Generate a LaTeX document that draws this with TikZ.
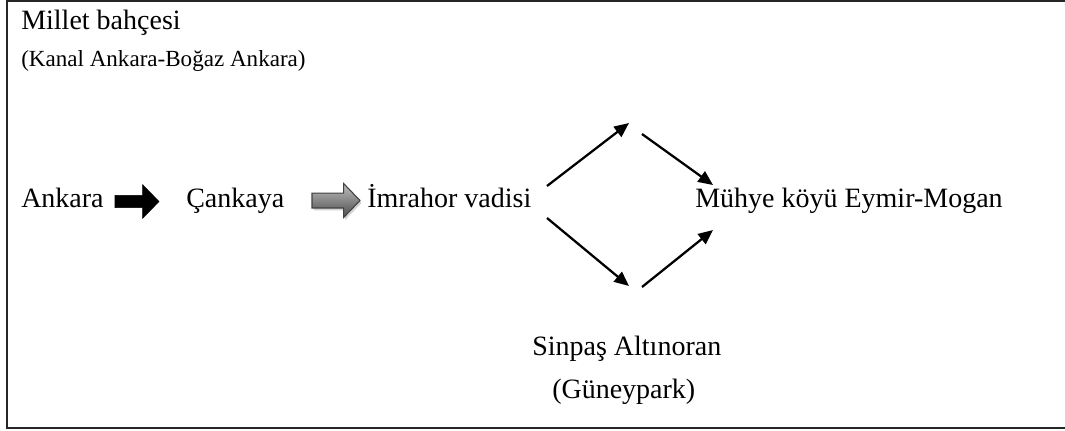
\documentclass[tikz,border=0pt]{standalone}
\usepackage{fontspec}
\setmainfont{Liberation Serif}
\usepackage{tikz}
\usetikzlibrary{arrows.meta,calc,shadows}

\begin{document}
\begin{tikzpicture}[x=0.75pt,y=-0.75pt,>=Triangle]
  \tikzstyle{place}=[inner sep=0pt,anchor=base west,font=\fontsize{21}{25}\selectfont]
  \tikzstyle{note}=[inner sep=0pt,anchor=base west,font=\fontsize{17.3}{20}\selectfont]
  \tikzstyle{route}=[line width=1.7pt,-{Triangle[length=11pt,width=9.5pt]}]
  \tikzset{fat/.style 2 args={to path={let \p1=(\tikztostart),\p2=(\tikztotarget) in
    (\x1,\y1+#1) -- (\x2-12.3pt,\y1+#1) -- (\x2-12.3pt,\y1+#2) -- (\x2,\y1)
    -- (\x2-12.3pt,\y1-#2) -- (\x2-12.3pt,\y1-#1) -- (\x1,\y1-#1) -- cycle}}}
  \useasboundingbox (0,0) rectangle (1065,430);
  % frame
  \draw[line width=1.5pt,black!85] (1070,1) -- (7,1) -- (7,428) -- (1070,428);
  % texts
  \node[place] (title) at (21,29) {Millet bahçesi};
  \node[note] (sub) at (21,66) {(Kanal Ankara-Boğaz Ankara)};
  \node[place] (ankara) at (21,207.5) {Ankara};
  \node[place] (cankaya) at (186,207.5) {Çankaya};
  \node[place] (imrahor) at (367,207.5) {İmrahor vadisi};
  \node[place] (muhye) at (695,207.5) {Mühye köyü Eymir-Mogan};
  \node[place] (sinpas) at (532,355) {Sinpaş Altınoran};
  \node[place] (guney) at (552,398) {(Güneypark)};
  % block arrows
  \draw[fat={4.6pt}{12.6pt},fill=black] ([shift={(-71,-6)}]cankaya.base west) to ([shift={(-27,-6)}]cankaya.base west);
  \draw[fat={5.6pt}{12.75pt},draw=black!75,line width=0.8pt,top color=black!25,bottom color=black!70,
    drop shadow={shadow xshift=1.2pt,shadow yshift=-1.8pt,opacity=.35}]
    ([shift={(-55,-7)}]imrahor.base west) to ([shift={(-7,-7)}]imrahor.base west);
  % split and join
  \coordinate (fu) at (547,186);
  \coordinate (uin) at (629,123);
  \coordinate (uout) at (642,134);
  \coordinate (mu) at (713,185);
  \coordinate (fd) at (547,218);
  \coordinate (din) at (629,286);
  \coordinate (dout) at (642,287);
  \coordinate (md) at (713,230);
  \draw[route] (fu) -- (uin);
  \draw[route] (uout) -- (mu);
  \draw[route] (fd) -- (din);
  \draw[route] (dout) -- (md);
\end{tikzpicture}
\end{document}
